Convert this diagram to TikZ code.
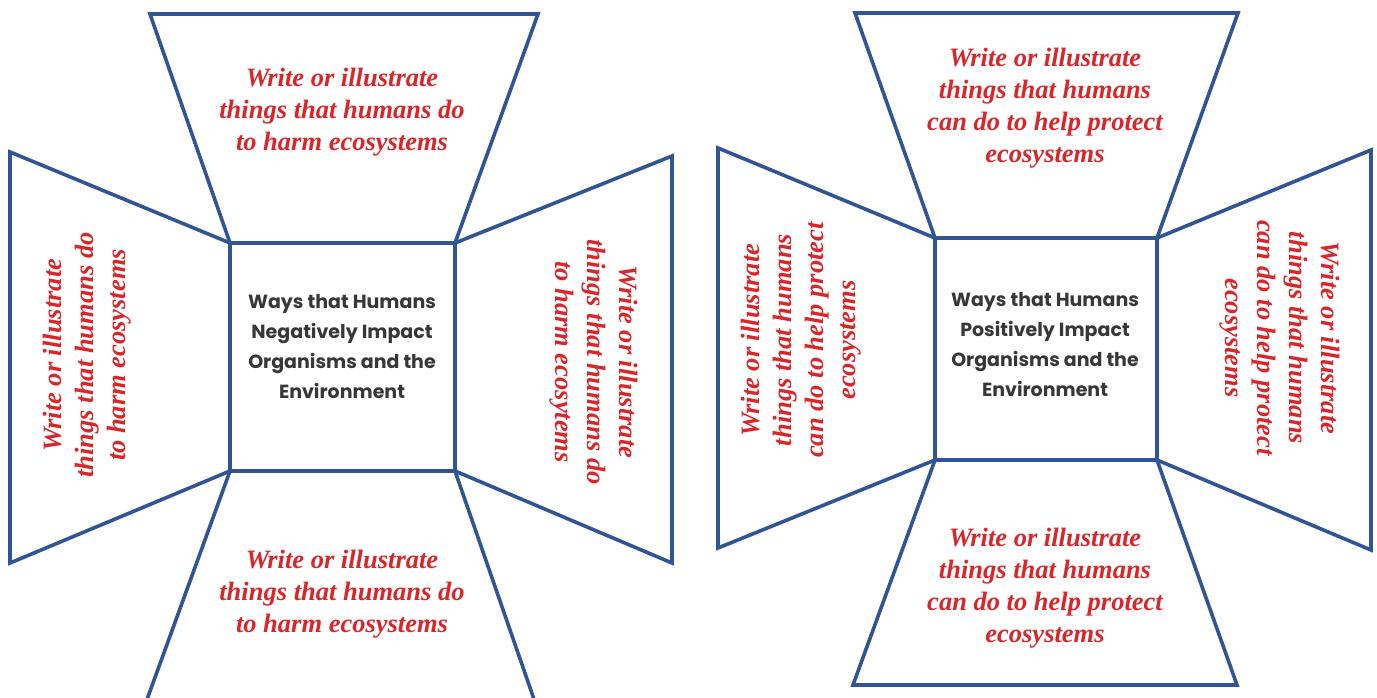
\documentclass[tikz,border=0pt]{standalone}
\usepackage{fontspec}
\setmainfont{Liberation Serif}
\newfontfamily\titlefont{Poppins}
\usetikzlibrary{positioning, calc}
\definecolor{myblue}{RGB}{47, 85,151}
\definecolor{myred}{RGB}{218, 37, 41}
\definecolor{mygray}{RGB}{55, 55, 55}

\begin{document}
\begin{tikzpicture}[
   x=1pt, y=-1pt,
   every node/.style   = {align=center, inner sep=0pt},
      panelLine/.style = {draw=myblue, line width=3.6pt, line join=miter},
     promptNode/.style = {text=myred, font=\fontsize{26.5}{32}\selectfont\bfseries\itshape},
      titleNode/.style = {text=mygray, font=\titlefont\fontsize{19}{30}\selectfont\bfseries}
]
    \useasboundingbox (0,0) rectangle (1377,698);
    \clip (0,0) rectangle (1377,698);

    % left board: centre square corners
    \coordinate (nA) at (230,243);
    \coordinate (nB) at (455,243);
    \coordinate (nC) at (455,471);
    \coordinate (nD) at (230,471);

    \draw[panelLine] (nA) rectangle (nC);
    \draw[panelLine] (nA) -- (150,14) -- (538,14) -- (nB);
    \draw[panelLine] (nA) -- (10,152) -- (10,563) -- (nD);
    \draw[panelLine] (nB) -- (672,156) -- (672,563) -- (nC);
    \draw[panelLine] (nD) -- (145,705) -- (536,705) -- (nC);

    \node[titleNode] (negTitle) at (342,347) {Ways that Humans\\Negatively Impact\\Organisms and the\\Environment};

    \node[promptNode] (negTop) at (342,112) {Write or illustrate\\things that humans do\\to harm ecosystems};
    \node[promptNode] (negBottom) at (342,594) {Write or illustrate\\things that humans do\\to harm ecosystems};
    \node[promptNode, rotate=90] (negLeft) at (87,355) {Write or illustrate\\things that humans do\\to harm ecosystems};
    \node[promptNode, rotate=-90] (negRight) at (594,362) {Write or illustrate\\things that humans do\\to harm ecosytems};

    % right board: centre square corners
    \coordinate (pA) at (935,238);
    \coordinate (pB) at (1157,238);
    \coordinate (pC) at (1157,460);
    \coordinate (pD) at (935,460);

    \draw[panelLine] (pA) rectangle (pC);
    \draw[panelLine] (pA) -- (855,13) -- (1238,13) -- (pB);
    \draw[panelLine] (pA) -- (718,148) -- (718,548) -- (pD);
    \draw[panelLine] (pB) -- (1371,150) -- (1371,550) -- (pC);
    \draw[panelLine] (pD) -- (853,685) -- (1237,685) -- (pC);

    \node[titleNode] (posTitle) at (1045,345) {Ways that Humans\\Positively Impact\\Organisms and the\\Environment};

    \node[promptNode] (posTop) at (1045,108) {Write or illustrate\\things that humans\\can do to help protect\\ecosystems};
    \node[promptNode] (posBottom) at (1045,588) {Write or illustrate\\things that humans\\can do to help protect\\ecosystems};
    \node[promptNode, rotate=90] (posLeft) at (801,340) {Write or illustrate\\things that humans\\can do to help protect\\ecosystems};
    \node[promptNode, rotate=-90] (posRight) at (1280,338) {Write or illustrate\\things that humans\\can do to help protect\\ecosystems};
\end{tikzpicture}
\end{document}
